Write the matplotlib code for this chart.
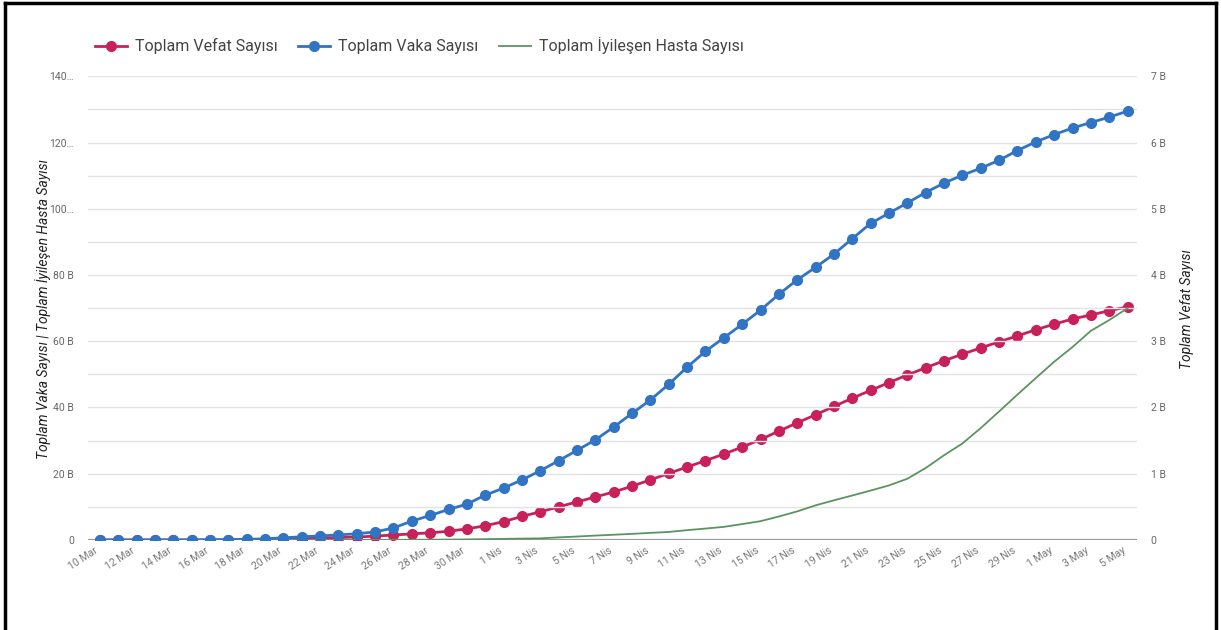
import matplotlib.pyplot as plt
from matplotlib.lines import Line2D
import numpy as np

plt.rcParams['font.family'] = ['Roboto', 'DejaVu Sans']

# tarihler: 10 Mart - 5 Mayis
dates = ([f"{d} Mar" for d in range(10, 32)] +
         [f"{d} Nis" for d in range(1, 31)] +
         [f"{d} May" for d in range(1, 6)])

# toplam vaka (bin)
cases = [0, 0.001, 0.001, 0.005, 0.006, 0.018, 0.047, 0.098, 0.191, 0.359, 0.670,
         0.947, 1.236, 1.529, 1.872, 2.433, 3.629, 5.698, 7.402, 9.217, 10.827, 13.531,
         15.679, 18.135, 20.921, 23.934, 27.069, 30.217, 34.109, 38.226, 42.282, 47.029,
         52.167, 56.956, 61.049, 65.111, 69.392, 74.193, 78.546, 82.329, 86.306, 90.980,
         95.591, 98.674, 101.790, 104.912, 107.773, 110.130, 112.261, 114.653, 117.589,
         120.204, 122.392, 124.375, 126.045, 127.659, 129.491]

# toplam vefat (bin)
deaths = [0, 0, 0, 0, 0, 0, 0, 0.001, 0.002, 0.004, 0.009, 0.021, 0.030, 0.037, 0.044,
          0.059, 0.075, 0.092, 0.108, 0.131, 0.168, 0.214, 0.277, 0.356, 0.425, 0.501,
          0.574, 0.649, 0.725, 0.812, 0.908, 1.006, 1.101, 1.198, 1.296, 1.403, 1.518,
          1.643, 1.769, 1.890, 2.017, 2.140, 2.259, 2.376, 2.491, 2.600, 2.706, 2.805,
          2.900, 2.992, 3.081, 3.174, 3.258, 3.336, 3.397, 3.461, 3.520]

# toplam iyilesen (bin)
recovered = [0, 0, 0, 0, 0, 0, 0, 0, 0, 0, 0, 0, 0, 0, 0, 0, 0.026, 0.042, 0.070,
             0.105, 0.162, 0.243, 0.333, 0.415, 0.484, 0.786, 1.042, 1.326, 1.582,
             1.846, 2.142, 2.423, 2.965, 3.446, 3.957, 4.799, 5.674, 7.089, 8.631,
             10.453, 11.976, 13.430, 14.918, 16.477, 18.491, 21.737, 25.582, 29.140,
             33.791, 38.809, 43.901, 48.886, 53.808, 58.259, 63.151, 66.392, 70.0]

left_ticks = [0, 20, 40, 60, 80, 100, 120, 140]
left_labels = ["0", "20 B", "40 B", "60 B", "80 B", "100…", "120…", "140…"]
right_ticks = [0, 1, 2, 3, 4, 5, 6, 7]
right_labels = ["0", "1 B", "2 B", "3 B", "4 B", "5 B", "6 B", "7 B"]

red = "#c8215a"
blue = "#3274c4"
green = "#5b9460"

fig = plt.figure(figsize=(12.21, 6.30), dpi=100)
ax = fig.add_axes([0.072, 0.1429, 0.859, 0.736])
ax2 = ax.twinx()

x = np.arange(len(dates))

# grid
for g in np.arange(10, 141, 10):
    ax.axhline(g, color="#e3e3e3", lw=1, zorder=0)
ax.axhline(0, color="#9a9a9a", lw=1.6, zorder=1)

ax.plot(x, recovered, color=green, lw=1.3, zorder=3)
ax.plot(x, cases, color=blue, lw=2, marker="o", ms=7, zorder=5)
ax2.plot(x, deaths, color=red, lw=2, marker="o", ms=7, zorder=4)

ax.set_zorder(ax2.get_zorder() + 1)
ax.patch.set_visible(False)

ax.set_xlim(-0.65, 56.5)
ax.set_ylim(0, 140)
ax2.set_ylim(0, 7)

ax.set_xticks(x[::2])
ax.set_xticklabels(dates[::2], rotation=33, ha="right", fontsize=7.5, color="#777777")
ax.tick_params(axis="x", length=0, pad=4)
ax.set_yticks(left_ticks)
ax.set_yticklabels(left_labels, fontsize=7.5, color="#666666")
ax.tick_params(axis="y", length=0, pad=10)
ax2.set_yticks(right_ticks)
ax2.set_yticklabels(right_labels, fontsize=7.5, color="#666666")
ax2.tick_params(axis="y", length=0, pad=10)

for a in (ax, ax2):
    for s in a.spines.values():
        s.set_visible(False)

fig.text(0.035, 0.51, "Toplam Vaka Sayısı | Toplam İyileşen Hasta Sayısı", rotation=90,
         ha="center", va="center", fontsize=10, style="italic", color="#222222")
fig.text(0.972, 0.51, "Toplam Vefat Sayısı", rotation=90,
         ha="center", va="center", fontsize=10, style="italic", color="#222222")

handles = [Line2D([], [], color=red, lw=2, marker="o", ms=7),
           Line2D([], [], color=blue, lw=2, marker="o", ms=7),
           Line2D([], [], color=green, lw=1.3)]
labels = ["Toplam Vefat Sayısı", "Toplam Vaka Sayısı", "Toplam İyileşen Hasta Sayısı"]
fig.legend(handles, labels, loc="center left", bbox_to_anchor=(0.066, 0.927), ncol=3,
           frameon=False, fontsize=11.5, handlelength=2.0, columnspacing=1.3,
           handletextpad=0.5, labelcolor="#444444")

# cerceve
fig.add_artist(Line2D([0.004, 0.004], [0.0, 0.996], color="black", lw=2.5,
                      transform=fig.transFigure))
fig.add_artist(Line2D([0.004, 0.996], [0.996, 0.996], color="black", lw=2.5,
                      transform=fig.transFigure))
fig.add_artist(Line2D([0.996, 0.996], [0.0, 0.996], color="black", lw=2.5,
                      transform=fig.transFigure))

fig.savefig("out.png", dpi=100)
